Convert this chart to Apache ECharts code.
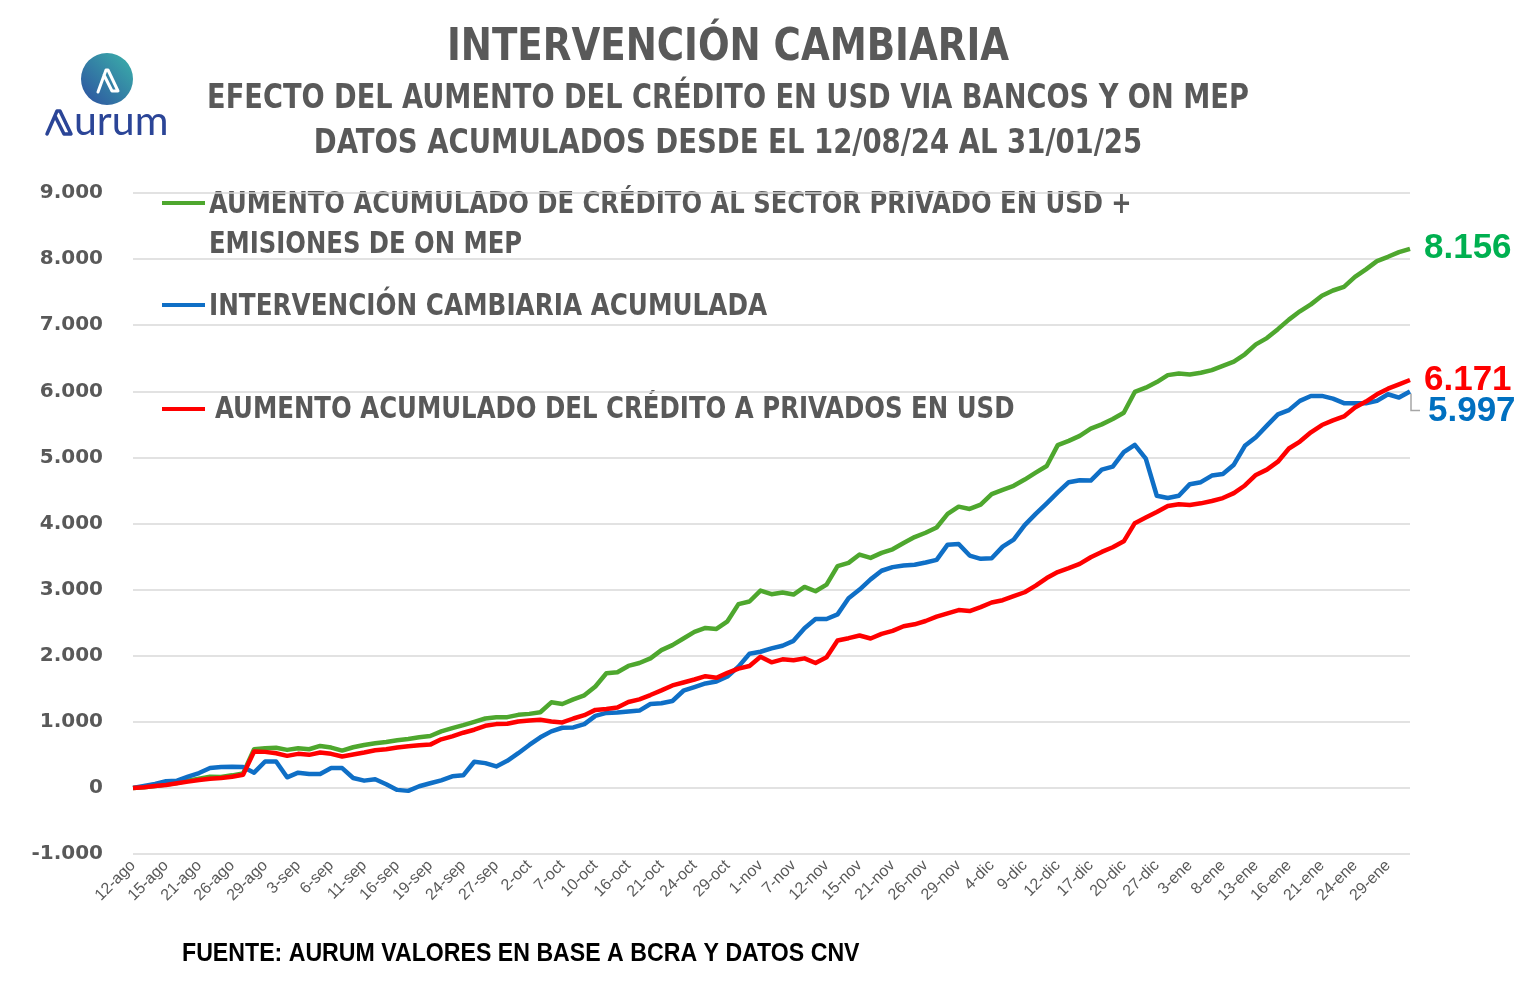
<!DOCTYPE html>
<html>
<head>
<meta charset="utf-8">
<script src="https://cdn.jsdelivr.net/npm/echarts@6/dist/echarts.min.js"></script>
<style>
html,body{margin:0;padding:0;background:#fff;}
#chart{width:1526px;height:999px;}
</style>
</head>
<body>
<div id="chart"></div>
<script>
// ---- DATA ----
const categories = [
 '12-ago','13-ago','14-ago','15-ago','19-ago','20-ago','21-ago','22-ago','23-ago','26-ago','27-ago','28-ago','29-ago','30-ago',
 '2-sep','3-sep','4-sep','5-sep','6-sep','9-sep','10-sep','11-sep','12-sep','13-sep','16-sep','17-sep','18-sep','19-sep','20-sep','23-sep','24-sep','25-sep','26-sep','27-sep','30-sep',
 '1-oct','2-oct','3-oct','4-oct','7-oct','8-oct','9-oct','10-oct','14-oct','15-oct','16-oct','17-oct','18-oct','21-oct','22-oct','23-oct','24-oct','25-oct','28-oct','29-oct','30-oct','31-oct',
 '1-nov','5-nov','6-nov','7-nov','8-nov','11-nov','12-nov','13-nov','14-nov','15-nov','19-nov','20-nov','21-nov','22-nov','25-nov','26-nov','27-nov','28-nov','29-nov',
 '2-dic','3-dic','4-dic','5-dic','6-dic','9-dic','10-dic','11-dic','12-dic','13-dic','16-dic','17-dic','18-dic','19-dic','20-dic','23-dic','26-dic','27-dic','30-dic',
 '2-ene','3-ene','6-ene','7-ene','8-ene','9-ene','10-ene','13-ene','14-ene','15-ene','16-ene','17-ene','20-ene','21-ene','22-ene','23-ene','24-ene','27-ene','28-ene','29-ene','30-ene','31-ene'
];

const seriesNames = [
 'AUMENTO ACUMULADO DE CRÉDITO AL SECTOR PRIVADO EN USD +\nEMISIONES DE ON MEP',
 'INTERVENCIÓN CAMBIARIA ACUMULADA',
 'AUMENTO ACUMULADO DEL CRÉDITO A PRIVADOS EN USD'
];

const creditoMasON = [
 0,10,30,50,75,110,140,170,165,190,220,585,600,608,575,600,585,635,610,565,
 615,650,675,695,720,740,765,785,855,905,950,1000,1050,1070,1070,1105,1120,1145,1295,1270,
 1340,1400,1535,1735,1750,1845,1890,1960,2085,2160,2260,2360,2420,2405,2520,2780,2820,2985,2930,2955,
 2925,3040,2975,3075,3355,3405,3530,3480,3555,3610,3705,3795,3860,3940,4145,4255,4220,4285,4445,4510,
 4570,4665,4770,4870,5185,5250,5325,5435,5500,5580,5675,5990,6055,6140,6245,6270,6255,6280,6320,6385,
 6450,6560,6710,6805,6940,7085,7210,7315,7445,7525,7580,7730,7845,7970,8035,8105,8156
];

const intervencion = [
 0,30,60,100,110,170,225,300,315,320,315,230,400,400,160,230,210,210,300,300,
 150,110,130,55,-30,-45,25,70,115,175,190,395,375,325,410,525,650,765,855,910,
 915,965,1090,1135,1140,1155,1170,1270,1280,1315,1470,1525,1580,1610,1685,1835,2030,2060,2110,2150,
 2225,2415,2555,2555,2625,2870,3000,3155,3285,3340,3365,3375,3410,3450,3680,3690,3515,3465,3475,3650,
 3755,3975,4145,4305,4470,4625,4655,4650,4815,4860,5080,5190,4980,4420,4385,4420,4595,4625,4725,4750,
 4890,5175,5305,5480,5650,5715,5855,5930,5930,5890,5820,5820,5820,5855,5955,5905,5997
];

const creditoPrivados = [
 0,10,30,45,70,95,120,140,150,170,200,550,545,525,485,515,500,535,515,475,
 505,535,570,585,610,630,645,655,735,780,835,880,940,965,970,1005,1020,1030,1005,990,
 1050,1100,1180,1195,1215,1300,1340,1405,1475,1550,1595,1640,1690,1665,1740,1805,1845,1985,1900,1945,
 1930,1960,1890,1975,2230,2265,2305,2260,2330,2375,2445,2475,2525,2590,2640,2690,2675,2735,2805,2840,
 2900,2960,3060,3175,3265,3325,3390,3490,3570,3640,3730,4005,4090,4175,4265,4290,4280,4305,4340,4385,
 4460,4575,4735,4815,4935,5135,5240,5380,5490,5560,5620,5755,5845,5955,6040,6105,6171
];

const yTicks = {min: -1000, max: 9000, interval: 1000};

const titleText = 'INTERVENCIÓN CAMBIARIA';
const subtitle1 = 'EFECTO DEL AUMENTO DEL CRÉDITO EN USD VIA BANCOS Y ON MEP';
const subtitle2 = 'DATOS ACUMULADOS DESDE EL 12/08/24 AL 31/01/25';
const sourceText = 'FUENTE: AURUM VALORES EN BASE A BCRA Y DATOS CNV';

// ---- STYLE ----
const GREEN = '#4EA72E', BLUE = '#0F6FC6', RED = '#FF0000';
const LABEL_GREEN = '#00B050', LABEL_BLUE = '#0070C0';
const GRAY = '#595959';
const NARROW = '"Liberation Sans Narrow","Arial Narrow","DejaVu Sans Condensed",sans-serif';
const SANS = '"Liberation Sans",Arial,sans-serif';

function fmt(v){
  const s = Math.abs(Math.round(v)).toString().replace(/\B(?=(\d{3})+(?!\d))/g,'.');
  return (v < 0 ? '-' : '') + s;
}

const chart = echarts.init(document.getElementById('chart'));

function endLabelStyle(color, offset){
  return {
    show: true,
    formatter: p => fmt(p.value),
    color: color,
    fontSize: 35,
    fontWeight: 'bold',
    fontFamily: SANS,
    distance: 14,
    offset: offset || [0,0]
  };
}

const graphics = [
  // titles
  {type:'text', x:728, y:27, scaleX:0.94, style:{text:titleText, fill:GRAY, font:'bold 44px '+NARROW, textAlign:'center'}},
  {type:'text', x:728, y:82, scaleX:0.89, style:{text:subtitle1, fill:GRAY, font:'bold 34px '+NARROW, textAlign:'center'}},
  {type:'text', x:728, y:127, scaleX:0.9, style:{text:subtitle2, fill:GRAY, font:'bold 34px '+NARROW, textAlign:'center'}},
  // legend (custom layout as in the original)
  {type:'line', shape:{x1:162,y1:203,x2:205,y2:203}, style:{stroke:GREEN, lineWidth:4}},
  {type:'text', x:209, y:185, scaleX:0.9, style:{text:seriesNames[0], fill:GRAY, font:'bold 30px '+NARROW, lineHeight:40}},
  {type:'line', shape:{x1:162,y1:305,x2:205,y2:305}, style:{stroke:BLUE, lineWidth:4}},
  {type:'text', x:209, y:292, scaleX:0.915, style:{text:seriesNames[1], fill:GRAY, font:'bold 30px '+NARROW}},
  {type:'line', shape:{x1:162,y1:409,x2:205,y2:409}, style:{stroke:RED, lineWidth:4}},
  {type:'text', x:215, y:395, scaleX:0.905, style:{text:seriesNames[2], fill:GRAY, font:'bold 30px '+NARROW}},
  // source
  {type:'text', x:182, y:941, scaleX:0.89, style:{text:sourceText, fill:'#000', font:'bold 26px '+SANS}},
  // logo
  {type:'circle', shape:{cx:107, cy:79, r:26}, style:{fill:{type:'linear', x:0, y:1, x2:1, y2:0, colorStops:[{offset:0,color:'#2D4FA0'},{offset:1,color:'#3BB3AA'}]}}},
  {type:'polyline', shape:{points:[[98,92],[106,70],[108,70],[118,91],[112,91],[104,75]]}, style:{stroke:'#fff', lineWidth:3, fill:null, lineJoin:'round', lineCap:'round'}},
  {type:'polyline', shape:{points:[[47,134],[57,111],[60,111],[71,134],[64,134],[55,116]]}, style:{stroke:'#2B4597', lineWidth:3.5, fill:null, lineJoin:'round', lineCap:'round'}},
  {type:'text', x:74, y:101, style:{text:'urum', fill:'#2B4597', font:'41px Lato,"Open Sans",sans-serif'}}
];

const option = {
  backgroundColor: '#fff',
  animation: false,
  grid: {left: 133, right: 116, top: 193, bottom: 145, containLabel: false},
  xAxis: {
    type: 'category',
    data: categories,
    boundaryGap: false,
    axisLine: {show: false},
    axisTick: {show: false},
    splitLine: {show: false},
    axisLabel: {
      interval: 2, rotate: 45, margin: 9,
      color: GRAY, fontSize: 16,
      fontFamily: SANS
    }
  },
  yAxis: {
    type: 'value',
    min: yTicks.min, max: yTicks.max, interval: yTicks.interval,
    axisLine: {show: false},
    axisTick: {show: false},
    splitLine: {show: true, lineStyle: {color: '#D9D9D9', width: 1.5}},
    axisLabel: {
      formatter: v => fmt(v), margin: 30,
      color: GRAY, fontSize: 20, fontWeight: 'bold',
      fontFamily: '"DejaVu Sans",Verdana,sans-serif'
    }
  },
  series: [
    {
      name: seriesNames[0], type: 'line', data: creditoMasON, symbol: 'none',
      color: GREEN, lineStyle: {width: 4.5, color: GREEN, join: 'round'}, z: 2,
      endLabel: endLabelStyle(LABEL_GREEN)
    },
    {
      name: seriesNames[1], type: 'line', data: intervencion, symbol: 'none',
      color: BLUE, lineStyle: {width: 4.5, color: BLUE, join: 'round'}, z: 3,
      endLabel: endLabelStyle(LABEL_BLUE, [4, 20])
    },
    {
      name: seriesNames[2], type: 'line', data: creditoPrivados, symbol: 'none',
      color: RED, lineStyle: {width: 4.5, color: RED, join: 'round'}, z: 4,
      endLabel: endLabelStyle(RED)
    }
  ],
  graphic: graphics
};
chart.setOption(option);

// leader line from the last blue point to its offset label
const lastIdx = intervencion.length - 1;
const p = chart.convertToPixel({seriesIndex: 1}, [lastIdx, intervencion[lastIdx]]);
graphics.push({type:'polyline', z: 1, shape:{points:[[p[0]+1, p[1]+2],[p[0]+1, p[1]+19],[p[0]+10, p[1]+19]]}, style:{stroke:'#A6A6A6', lineWidth:1.5, fill:null}});
chart.setOption({graphic: graphics});
</script>
</body>
</html>
